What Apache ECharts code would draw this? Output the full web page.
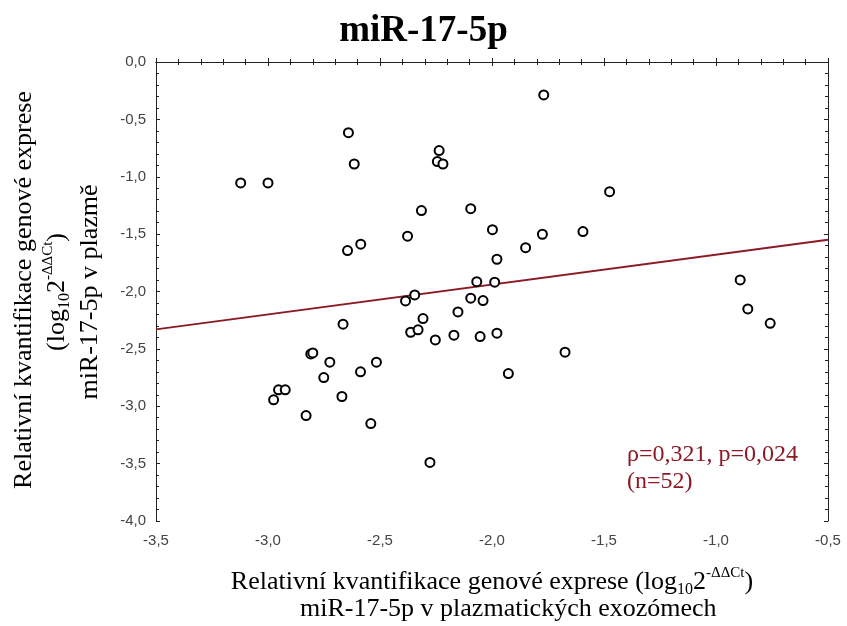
<!DOCTYPE html>
<html>
<head>
<meta charset="utf-8">
<script src="https://cdn.jsdelivr.net/npm/echarts@6/dist/echarts.min.js"></script>
<style>
html,body{margin:0;padding:0;background:#fff;}
#chart{width:847px;height:626px;}
</style>
</head>
<body>
<div id="chart"></div>
<script>
// Exosome expression (x) and plasma expression (y), log10 2^-ddCt
const xVals = [-3.122, -3.000, -2.641, -2.615, -2.236, -2.244, -2.219, -2.315, -2.095, -2.377,
               -2.645, -2.586, -1.998, -2.068, -1.988, -1.769, -1.475, -1.775, -1.594, -1.850,
               -1.978, -0.892, -2.386, -2.345, -2.095, -2.040, -2.665, -2.152, -2.308, -2.363,
               -2.330, -2.253, -2.170, -2.053, -2.809, -2.800, -2.724, -2.516, -2.751, -2.587,
               -2.953, -2.923, -2.975, -2.670, -2.830, -2.541, -2.277, -1.978, -1.927, -1.674,
               -0.858, -0.758];
const yVals = [-1.054, -1.054, -0.616, -0.889, -0.772, -0.868, -0.889, -1.295, -1.278, -1.518,
               -1.643, -1.588, -1.461, -1.914, -1.919, -0.287, -1.130, -1.501, -1.478, -1.618,
               -1.719, -1.899, -2.082, -2.030, -2.058, -2.079, -2.285, -2.178, -2.236, -2.355,
               -2.334, -2.422, -2.381, -2.393, -2.544, -2.535, -2.616, -2.616, -2.750, -2.700,
               -2.857, -2.857, -2.944, -2.915, -3.081, -3.151, -3.490, -2.363, -2.715, -2.529,
               -2.152, -2.277];
// Regression line end points
const fitX = [-3.5, -0.5];
const fitY = [-2.33, -1.55];
// Axis ranges / ticks
const xTicks = { min: -3.5, max: -0.5, step: 0.5 };
const yTicks = { min: -4.0, max: 0.0, step: 0.5 };
const statsLines = ['ρ=0,321, p=0,024', '(n=52)'];

const fmt = v => v.toFixed(1).replace('.', ',');
const serif = "'Liberation Serif', 'Times New Roman', serif";
const sans = "'Liberation Sans', Arial, sans-serif";
const darkRed = '#8b1a24';

const chart = echarts.init(document.getElementById('chart'), null, {renderer: 'canvas'});

const axisCommon = {
  axisLine: {show: true, lineStyle: {color: '#222', width: 1}},
  axisTick: {show: true, inside: true, length: 4, lineStyle: {color: '#222'}},
  minorTick: {show: true, splitNumber: 5, length: 3, lineStyle: {color: '#222'}},
  splitLine: {show: false},
  minorSplitLine: {show: false}
};

const supRich = {
  sub: {fontSize: 16, fontFamily: serif, verticalAlign: 'bottom', lineHeight: 16, color: '#000'},
  sup: {fontSize: 15, fontFamily: serif, verticalAlign: 'top', lineHeight: 15, color: '#000'}
};

const option = {
  backgroundColor: '#fff',
  animation: false,
  title: {
    text: 'miR-17-5p',
    left: 'center',
    top: 8,
    textStyle: {fontFamily: serif, fontWeight: 'bold', fontSize: 37, color: '#000'}
  },
  grid: {left: 156, right: 19, top: 62, bottom: 105},
  xAxis: [
    Object.assign({
      type: 'value', position: 'bottom',
      min: xTicks.min, max: xTicks.max, interval: xTicks.step,
      axisLabel: {formatter: fmt, color: '#444', fontFamily: sans, fontSize: 15, margin: 12}
    }, axisCommon),
    Object.assign({
      type: 'value', position: 'top',
      min: xTicks.min, max: xTicks.max, interval: xTicks.step,
      axisLabel: {show: false}
    }, axisCommon)
  ],
  yAxis: [
    Object.assign({
      type: 'value', position: 'left',
      min: yTicks.min, max: yTicks.max, interval: yTicks.step,
      axisLabel: {formatter: fmt, color: '#444', fontFamily: sans, fontSize: 15, margin: 10}
    }, axisCommon),
    Object.assign({
      type: 'value', position: 'right',
      min: yTicks.min, max: yTicks.max, interval: yTicks.step,
      axisLabel: {show: false}
    }, axisCommon)
  ],
  series: [
    {
      type: 'line',
      data: fitX.map((x, i) => [x, fitY[i]]),
      showSymbol: false,
      symbol: 'none',
      lineStyle: {color: darkRed, width: 2},
      z: 2,
      silent: true
    },
    {
      type: 'scatter',
      data: xVals.map((x, i) => [x, yVals[i]]),
      symbol: 'circle',
      symbolSize: 9,
      itemStyle: {color: '#fff', borderColor: '#000', borderWidth: 2, opacity: 1},
      z: 3
    }
  ],
  graphic: [
    {
      type: 'text', x: 492, y: 582,
      style: {
        text: 'Relativní kvantifikace genové exprese (log{sub|10}2{sup|-ΔΔCt})',
        fontFamily: serif, fontSize: 26, lineHeight: 32, fill: '#000',
        align: 'center', verticalAlign: 'middle', rich: supRich
      }
    },
    {
      type: 'text', x: 300, y: 609,
      style: {
        text: 'miR-17-5p v plazmatických exozómech',
        fontFamily: serif, fontSize: 26, fill: '#000',
        align: 'left', verticalAlign: 'middle'
      }
    },
    {
      type: 'text', x: 24, y: 290, rotation: Math.PI / 2,
      style: {
        text: 'Relativní kvantifikace genové exprese',
        fontFamily: serif, fontSize: 26, fill: '#000',
        align: 'center', verticalAlign: 'middle'
      }
    },
    {
      type: 'text', x: 57, y: 292, rotation: Math.PI / 2,
      style: {
        text: '(log{sub|10}2{sup|-ΔΔCt})',
        fontFamily: serif, fontSize: 26, lineHeight: 32, fill: '#000',
        align: 'center', verticalAlign: 'middle', rich: supRich
      }
    },
    {
      type: 'text', x: 90, y: 292, rotation: Math.PI / 2,
      style: {
        text: 'miR-17-5p v plazmě',
        fontFamily: serif, fontSize: 26, fill: '#000',
        align: 'center', verticalAlign: 'middle'
      }
    },
    {
      type: 'text', x: 627, y: 455,
      style: {
        text: statsLines[0],
        fontFamily: serif, fontSize: 24, fill: darkRed,
        align: 'left', verticalAlign: 'middle'
      }
    },
    {
      type: 'text', x: 627, y: 482,
      style: {
        text: statsLines[1],
        fontFamily: serif, fontSize: 24, fill: darkRed,
        align: 'left', verticalAlign: 'middle'
      }
    }
  ]
};

chart.setOption(option);
</script>
</body>
</html>
